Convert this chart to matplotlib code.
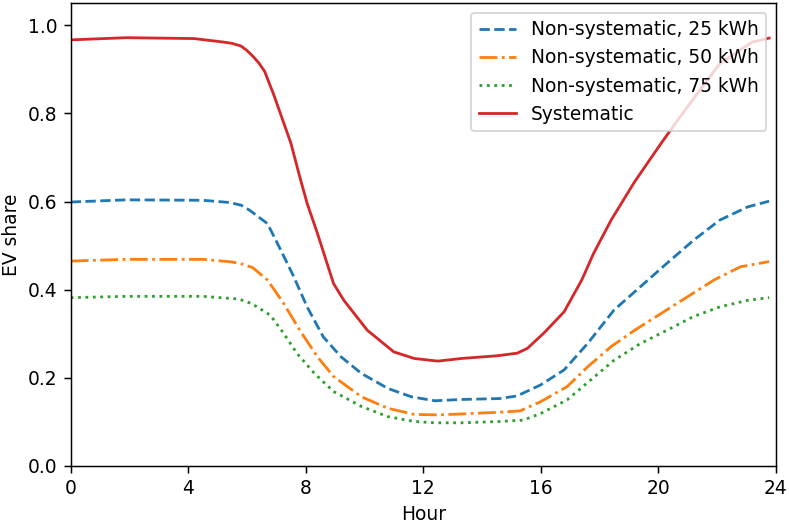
import matplotlib
matplotlib.use('Agg')
import matplotlib.pyplot as plt

# --- values (hour of day -> EV share) ---
hours_sys = [0, 1.9, 4.2, 5.2, 5.5, 5.8, 6.0, 6.2, 6.4, 6.6, 6.9, 7.5, 7.8, 8.05, 8.4,
             8.95, 9.3, 10.1, 11.0, 11.7, 12.5, 13.3, 14.5, 15.2, 15.55, 16.1, 16.8,
             17.4, 17.8, 18.4, 19.2, 20.1, 20.7, 21.5, 22.1, 23.2, 23.78]
systematic = [0.967, 0.972, 0.970, 0.962, 0.959, 0.953, 0.943, 0.930, 0.915, 0.896,
              0.845, 0.732, 0.656, 0.596, 0.528, 0.414, 0.376, 0.308, 0.259, 0.244,
              0.238, 0.244, 0.250, 0.256, 0.267, 0.301, 0.350, 0.422, 0.482, 0.558,
              0.645, 0.732, 0.788, 0.860, 0.913, 0.962, 0.971]

hours_25 = [0, 1.9, 4.5, 5.4, 5.8, 6.1, 6.7, 7.1, 7.6, 8.05, 8.6, 9.2, 9.9, 10.8,
            11.6, 12.4, 13.3, 14.6, 15.2, 16.0, 16.8, 17.6, 18.5, 19.4, 20.3, 21.2,
            22.1, 23.05, 23.78]
ns_25 = [0.599, 0.604, 0.603, 0.598, 0.592, 0.580, 0.550, 0.497, 0.429, 0.361, 0.293,
         0.248, 0.210, 0.176, 0.157, 0.148, 0.151, 0.153, 0.159, 0.184, 0.218, 0.278,
         0.354, 0.407, 0.460, 0.512, 0.558, 0.588, 0.601]

hours_50 = [0, 1.9, 4.5, 5.5, 5.85, 6.2, 6.7, 7.25, 7.8, 8.4, 8.95, 9.9, 10.8, 11.7,
            12.5, 13.3, 14.6, 15.3, 16.0, 16.9, 17.6, 18.4, 19.2, 20.1, 21.0, 21.9,
            22.8, 23.78]
ns_50 = [0.465, 0.469, 0.469, 0.463, 0.458, 0.450, 0.422, 0.369, 0.308, 0.248, 0.203,
         0.157, 0.131, 0.117, 0.116, 0.118, 0.122, 0.125, 0.146, 0.180, 0.225, 0.271,
         0.308, 0.346, 0.384, 0.422, 0.452, 0.464]

hours_75 = [0, 1.9, 4.5, 5.7, 6.0, 6.3, 6.8, 7.25, 7.7, 8.3, 8.95, 9.9, 10.8, 11.7,
            12.4, 13.3, 14.6, 15.4, 16.0, 16.9, 17.7, 18.5, 19.4, 20.3, 21.2, 22.1,
            23.05, 23.78]
ns_75 = [0.382, 0.385, 0.385, 0.379, 0.373, 0.363, 0.342, 0.301, 0.256, 0.210, 0.169,
         0.135, 0.112, 0.101, 0.098, 0.098, 0.101, 0.104, 0.119, 0.150, 0.195, 0.240,
         0.278, 0.308, 0.339, 0.361, 0.376, 0.382]

xticks = [0, 4, 8, 12, 16, 20, 24]

dpi = 134
fig, ax = plt.subplots(figsize=(789 / dpi, 525 / dpi), dpi=dpi)
fig.subplots_adjust(left=0.0896, right=0.983, top=0.9937, bottom=0.1124)

ax.plot(hours_25, ns_25, '--', color='tab:blue', label='Non-systematic, 25 kWh')
ax.plot(hours_50, ns_50, '-.', color='tab:orange', label='Non-systematic, 50 kWh')
ax.plot(hours_75, ns_75, ':', color='tab:green', label='Non-systematic, 75 kWh')
ax.plot(hours_sys, systematic, '-', color='tab:red', label='Systematic')

ax.set_xlim(0, 24)
ax.set_ylim(0, 1.05)
ax.set_xticks(xticks)
ax.set_xlabel('Hour')
ax.set_ylabel('EV share')
ax.legend(loc='upper right')

fig.savefig('out.png', dpi=dpi)
